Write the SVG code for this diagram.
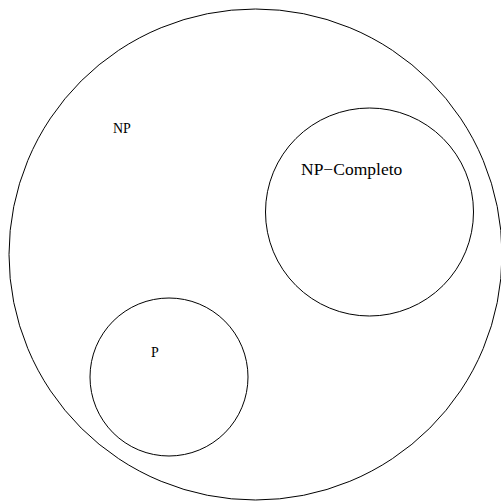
<svg xmlns="http://www.w3.org/2000/svg" width="501" height="501" viewBox="0 0 501 501">
  <style>
    .set { fill: none; stroke: #000; stroke-width: 1; }
    .lbl { font-family: "Liberation Serif", "Times New Roman", serif; fill: #000; }
  </style>
  <rect width="501" height="501" fill="#fff"/>
  <g id="np">
    <ellipse class="set" cx="255.5" cy="254.5" rx="246.5" ry="245.5"/>
    <text class="lbl" x="113" y="133" font-size="14">NP</text>
  </g>
  <g id="np-completo">
    <circle class="set" cx="369.5" cy="212" r="104"/>
    <text class="lbl" x="301" y="175" font-size="17.5">NP−Completo</text>
  </g>
  <g id="p">
    <circle class="set" cx="169" cy="377" r="79"/>
    <text class="lbl" x="151" y="357" font-size="14">P</text>
  </g>
  <g id="connectors"/>
</svg>
